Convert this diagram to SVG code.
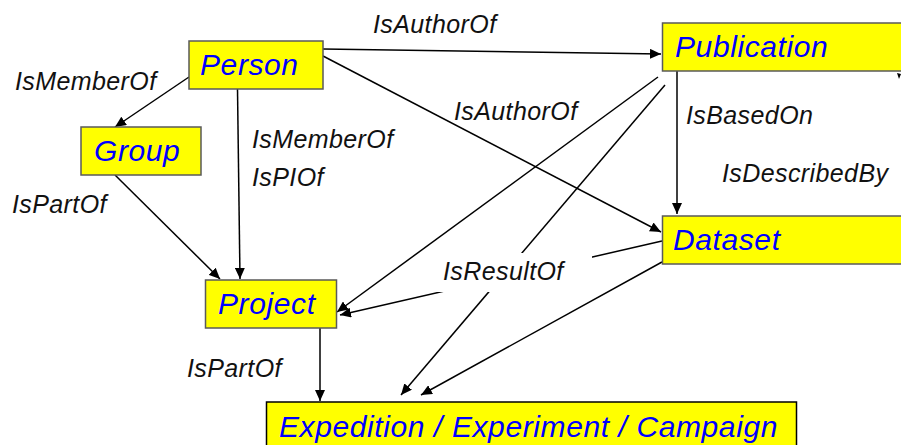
<svg xmlns="http://www.w3.org/2000/svg" width="901" height="445" viewBox="0 0 901 445">
<style>
.box{fill:#ffff00;stroke:#5a5a5a;stroke-width:1.5}
.nt{font-family:"Liberation Sans",Arial,sans-serif;font-style:italic;font-size:30px;letter-spacing:0.6px;fill:#0000ff}
.lb{font-family:"Liberation Sans",Arial,sans-serif;font-style:italic;font-size:25px;letter-spacing:0.4px;fill:#111}
.c{stroke:#000;stroke-width:1.5;fill:none}
</style>
<defs>
<marker id="ah" markerUnits="userSpaceOnUse" markerWidth="12" markerHeight="10" refX="11" refY="5" orient="auto">
<path d="M0,0 L11,5 L0,10 Z" fill="#000"/>
</marker>
</defs>
<rect width="901" height="445" fill="#fff"/>
<g id="connectors">
<line class="c" x1="323" y1="49" x2="661" y2="54" marker-end="url(#ah)"/>
<line class="c" x1="323" y1="56" x2="661" y2="232" marker-end="url(#ah)"/>
<line class="c" x1="189" y1="77" x2="115" y2="127" marker-end="url(#ah)"/>
<line class="c" x1="237.5" y1="89" x2="240" y2="279" marker-end="url(#ah)"/>
<line class="c" x1="115" y1="175" x2="220" y2="279" marker-end="url(#ah)"/>
<line class="c" x1="658" y1="77" x2="337" y2="312" marker-end="url(#ah)"/>
<line class="c" x1="665" y1="85" x2="401" y2="395" marker-end="url(#ah)"/>
<line class="c" x1="662" y1="241" x2="340" y2="315" marker-end="url(#ah)"/>
<line class="c" x1="662" y1="262" x2="421" y2="395" marker-end="url(#ah)"/>
<line class="c" x1="677" y1="71" x2="677" y2="214" marker-end="url(#ah)"/>
<line class="c" x1="320" y1="328" x2="320" y2="401" marker-end="url(#ah)"/>
<path d="M897,73 L901,74 L899,79 Z" fill="#000"/>
</g>
<g id="labels">
<text class="lb" x="373" y="33">IsAuthorOf</text>
<text class="lb" x="454" y="120">IsAuthorOf</text>
<text class="lb" x="15" y="90">IsMemberOf</text>
<text class="lb" x="252" y="148">IsMemberOf</text>
<text class="lb" x="252" y="186">IsPIOf</text>
<text class="lb" x="12" y="213">IsPartOf</text>
<text class="lb" x="187" y="377">IsPartOf</text>
<text class="lb" x="686" y="124">IsBasedOn</text>
<text class="lb" x="722" y="182">IsDescribedBy</text>
<rect x="432" y="253" width="160" height="39" fill="#fff"/>
<text class="lb" x="443" y="280">IsResultOf</text>
</g>
<g id="person"><rect class="box" x="189" y="41" width="134" height="48"/><text class="nt" x="200" y="75">Person</text></g>
<g id="group"><rect class="box" x="81" y="127" width="120" height="48"/><text class="nt" x="94" y="161">Group</text></g>
<g id="publication"><rect class="box" x="662.5" y="23" width="245" height="48"/><text class="nt" x="675" y="57">Publication</text></g>
<g id="dataset"><rect class="box" x="662.5" y="216" width="245" height="48"/><text class="nt" x="673" y="250">Dataset</text></g>
<g id="project"><rect class="box" x="205.5" y="280" width="131" height="48"/><text class="nt" x="218" y="314">Project</text></g>
<g id="expedition"><rect x="266.5" y="402" width="530" height="60" fill="#ffff00" stroke="#000" stroke-width="1.5"/><text class="nt" x="279" y="437">Expedition / Experiment / Campaign</text></g>
</svg>
